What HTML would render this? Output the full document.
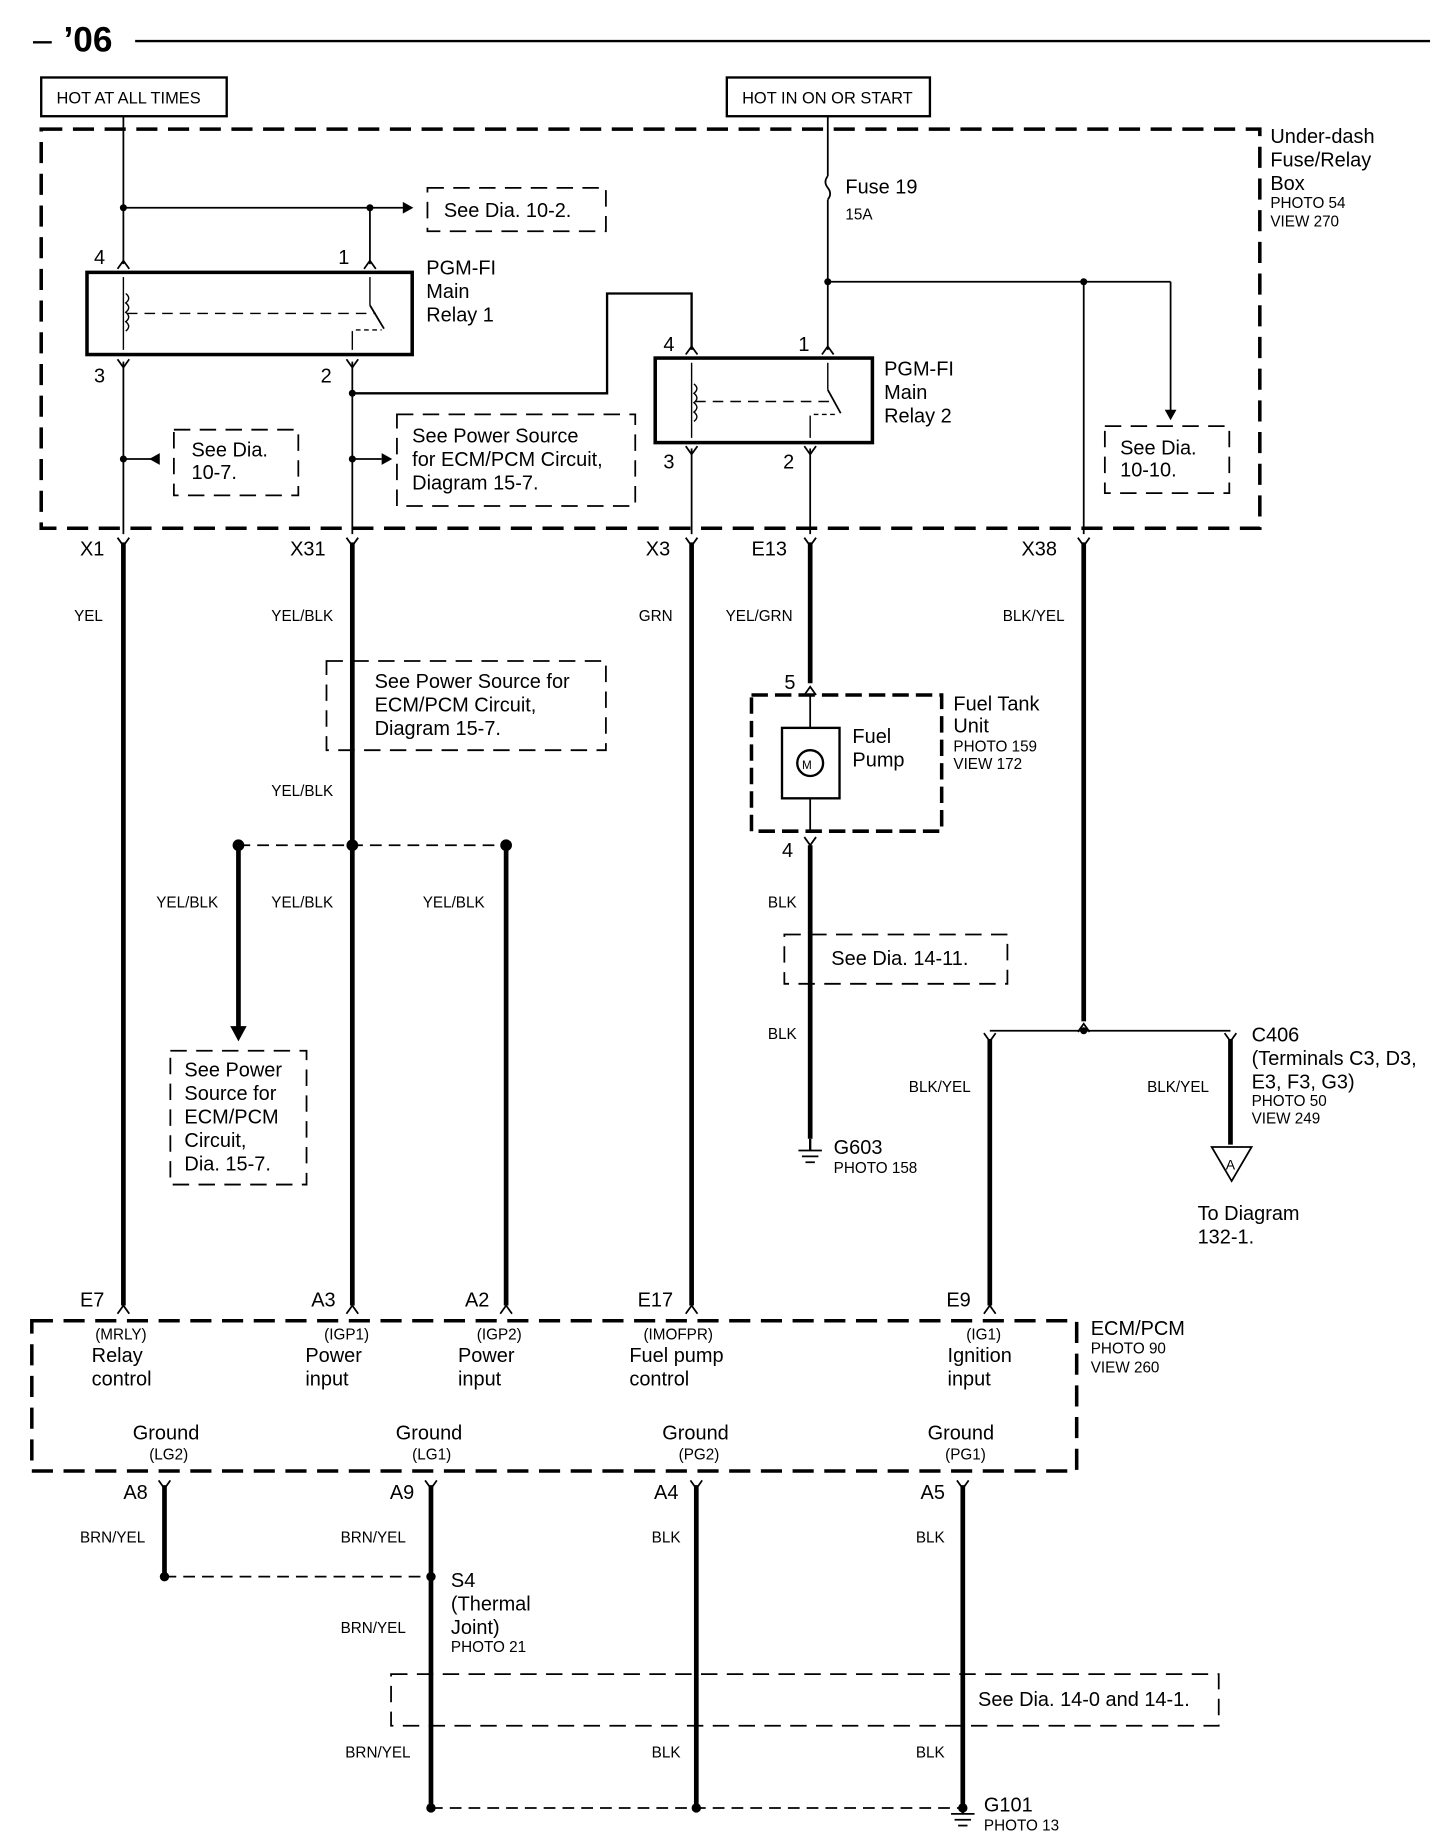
<!DOCTYPE html>
<html><head><meta charset="utf-8"><style>
html,body{margin:0;padding:0;background:#fff}
svg{display:block}
text{font-family:"Liberation Sans",Arial,sans-serif;fill:#000}
</style></head><body>
<svg width="1456" height="1842" viewBox="0 0 1240 1569" xmlns="http://www.w3.org/2000/svg">
<defs>
<g id="dn"><path d="M-5,-7 L0,0 L5,-7" fill="none" stroke="#000" stroke-width="1.5"/></g>
<g id="up"><path d="M-5,7 L0,0 L5,7" fill="none" stroke="#000" stroke-width="1.5"/></g>
</defs>
<g stroke="#000" fill="none">
<!-- header -->
<line x1="28" y1="36" x2="44" y2="36" stroke-width="2"/>
<line x1="115" y1="35" x2="1218" y2="35" stroke-width="2"/>
<rect x="35" y="66" width="158" height="33" stroke-width="2"/>
<rect x="619" y="66" width="173" height="33" stroke-width="2"/>
<rect x="35" y="110" width="1038" height="340" stroke-width="3" stroke-dasharray="18,9"/>
<!-- relay1 -->
<line x1="105" y1="99" x2="105" y2="225" stroke-width="1.5"/>
<line x1="105" y1="177" x2="345" y2="177" stroke-width="1.5"/>
<line x1="315" y1="177" x2="315" y2="225" stroke-width="1.5"/>
<rect x="74" y="232" width="277" height="70" stroke-width="3"/>
<line x1="105" y1="236" x2="105" y2="298" stroke-width="1.2"/>
<path d="M107,250 q5,4 0,8 q5,4 0,8 q5,4 0,8 q5,4 0,8" stroke-width="1.2"/>
<line x1="108" y1="267" x2="320" y2="267" stroke-width="1.2" stroke-dasharray="9,6"/>
<line x1="315" y1="236" x2="315" y2="260" stroke-width="1.2"/>
<line x1="315" y1="260" x2="327" y2="280" stroke-width="1.5"/>
<line x1="300" y1="282" x2="300" y2="298" stroke-width="1.2"/>
<line x1="303" y1="281" x2="325" y2="281" stroke-width="1.2" stroke-dasharray="4,3"/>
<line x1="105" y1="308" x2="105" y2="455" stroke-width="1.5"/>
<line x1="300" y1="308" x2="300" y2="455" stroke-width="1.5"/>
<path d="M300,335 H517 V250 H589 V298" stroke-width="2"/>
<!-- relay2 -->
<line x1="705" y1="99" x2="705" y2="150" stroke-width="1.5"/>
<path d="M705,150 q-4,5 0,10 q4,5 0,10" stroke-width="1.5"/>
<line x1="705" y1="170" x2="705" y2="298" stroke-width="1.5"/>
<line x1="705" y1="240" x2="997" y2="240" stroke-width="1.5"/>
<line x1="997" y1="240" x2="997" y2="350" stroke-width="1.5"/>
<line x1="923" y1="240" x2="923" y2="455" stroke-width="1.5"/>
<rect x="558" y="305" width="185" height="72" stroke-width="3"/>
<line x1="589" y1="309" x2="589" y2="373" stroke-width="1.2"/>
<path d="M591,327 q5,4 0,8 q5,4 0,8 q5,4 0,8 q5,4 0,8" stroke-width="1.2"/>
<line x1="592" y1="342" x2="708" y2="342" stroke-width="1.2" stroke-dasharray="9,6"/>
<line x1="705" y1="309" x2="705" y2="332" stroke-width="1.2"/>
<line x1="705" y1="332" x2="716" y2="352" stroke-width="1.5"/>
<line x1="690" y1="354" x2="690" y2="373" stroke-width="1.2"/>
<line x1="693" y1="353" x2="714" y2="353" stroke-width="1.2" stroke-dasharray="4,3"/>
<line x1="589" y1="382" x2="589" y2="455" stroke-width="1.5"/>
<line x1="690" y1="382" x2="690" y2="455" stroke-width="1.5"/>
<!-- side arrows -->
<line x1="105" y1="391" x2="135" y2="391" stroke-width="1.5"/>
<line x1="300" y1="391" x2="325" y2="391" stroke-width="1.5"/>
<!-- dashed boxes -->
<path d="M364,160 H516 V197 H364 Z" stroke-width="1.5" stroke-dasharray="14,8"/>
<path d="M148,366 H254 V422 H148 Z" stroke-width="1.5" stroke-dasharray="14,8"/>
<path d="M338,353 H541 V431 H338 Z" stroke-width="1.5" stroke-dasharray="14,8"/>
<path d="M941,363 H1047 V420 H941 Z" stroke-width="1.5" stroke-dasharray="14,8"/>
<path d="M278,563 H516 V639 H278 Z" stroke-width="1.5" stroke-dasharray="14,8"/>
<path d="M668,796 H858 V838 H668 Z" stroke-width="1.5" stroke-dasharray="14,8"/>
<path d="M145,895 H261 V1009 H145 Z" stroke-width="1.5" stroke-dasharray="14,8"/>
<path d="M333,1426 H1038 V1470 H333 Z" stroke-width="1.5" stroke-dasharray="14,8"/>
<!-- thick wires -->
<g stroke-width="4">
<line x1="105" y1="462" x2="105" y2="1112"/>
<line x1="300" y1="462" x2="300" y2="1112"/>
<line x1="589" y1="462" x2="589" y2="1112"/>
<line x1="690" y1="462" x2="690" y2="582"/>
<line x1="923" y1="462" x2="923" y2="870"/>
<line x1="203" y1="720" x2="203" y2="876"/>
<line x1="431" y1="720" x2="431" y2="1112"/>
<line x1="843" y1="885" x2="843" y2="1112"/>
<line x1="690" y1="720" x2="690" y2="970"/>
<line x1="140" y1="1265" x2="140" y2="1343"/>
<line x1="367" y1="1265" x2="367" y2="1540"/>
<line x1="593" y1="1265" x2="593" y2="1540"/>
<line x1="820" y1="1265" x2="820" y2="1540"/>
<line x1="1048" y1="885" x2="1048" y2="975"/>
</g>
<line x1="203" y1="720" x2="431" y2="720" stroke-width="1.5" stroke-dasharray="10,6"/>
<line x1="140" y1="1343" x2="367" y2="1343" stroke-width="1.5" stroke-dasharray="10,6"/>
<line x1="367" y1="1540" x2="820" y2="1540" stroke-width="1.5" stroke-dasharray="10,6"/>
<line x1="843" y1="878" x2="1048" y2="878" stroke-width="1.5"/>
<!-- fuel tank -->
<rect x="640" y="592" width="162" height="116" stroke-width="3" stroke-dasharray="14,6"/>
<rect x="666" y="620" width="49" height="60" stroke-width="2"/>
<circle cx="690" cy="650" r="11" stroke-width="2"/>
<line x1="690" y1="592" x2="690" y2="620" stroke-width="1.5"/>
<line x1="690" y1="680" x2="690" y2="708" stroke-width="1.5"/>
<path d="M1032,977 H1066 L1049,1006 Z" stroke-width="1.5"/>
<!-- ECM -->
<rect x="27" y="1125" width="890" height="128" stroke-width="3" stroke-dasharray="18,9"/>
<!-- grounds -->
<g stroke-width="1.5"><line x1="680" y1="980" x2="700" y2="980"/><line x1="683" y1="985" x2="697" y2="985"/><line x1="686" y1="990" x2="694" y2="990"/>
<line x1="810" y1="1545" x2="830" y2="1545"/><line x1="813" y1="1550" x2="827" y2="1550"/><line x1="816" y1="1555" x2="824" y2="1555"/></g>
<line x1="690" y1="970" x2="690" y2="980" stroke-width="2"/>
<line x1="820" y1="1540" x2="820" y2="1545" stroke-width="2"/>
</g>
<!-- arrows & pins -->
<g fill="#000">
<path d="M343,172 L352,177 L343,182Z"/>
<path d="M127,391 L136,386 L136,396Z"/>
<path d="M325,386 L334,391 L325,396Z"/>
<path d="M992,349 L997,358 L1002,349Z"/>
<path d="M196,874 L203,887 L210,874Z"/>
<circle cx="105" cy="177" r="3"/><circle cx="315" cy="177" r="3"/><circle cx="300" cy="335" r="3"/>
<circle cx="705" cy="240" r="3"/><circle cx="923" cy="240" r="3"/>
<circle cx="105" cy="391" r="3"/><circle cx="300" cy="391" r="3"/>
<circle cx="203" cy="720" r="5"/><circle cx="300" cy="720" r="5"/><circle cx="431" cy="720" r="5"/>
<circle cx="923" cy="878" r="3"/><circle cx="140" cy="1343" r="4"/><circle cx="367" cy="1343" r="4"/>
<circle cx="367" cy="1540" r="4"/><circle cx="593" cy="1540" r="4"/><circle cx="820" cy="1540" r="4"/>
</g>
<g>
<use href="#up" x="105" y="222"/><use href="#up" x="315" y="222"/><use href="#dn" x="105" y="313"/><use href="#dn" x="300" y="313"/>
<use href="#up" x="589" y="295"/><use href="#up" x="705" y="295"/><use href="#dn" x="589" y="387"/><use href="#dn" x="690" y="387"/>
<use href="#dn" x="105" y="465"/><use href="#dn" x="300" y="465"/><use href="#dn" x="589" y="465"/><use href="#dn" x="690" y="465"/><use href="#dn" x="923" y="465"/>
<use href="#up" x="690" y="585"/><use href="#dn" x="690" y="720"/>
<use href="#up" x="105" y="1112"/><use href="#up" x="300" y="1112"/><use href="#up" x="431" y="1112"/><use href="#up" x="589" y="1112"/><use href="#up" x="843" y="1112"/>
<use href="#dn" x="140" y="1268"/><use href="#dn" x="367" y="1268"/><use href="#dn" x="593" y="1268"/><use href="#dn" x="820" y="1268"/>
<use href="#dn" x="843" y="887"/><use href="#dn" x="1048" y="887"/><use href="#up" x="923" y="872"/>
</g>
<!-- text -->
<text x="54" y="44" font-size="30" font-weight="bold">’06</text>
<g font-size="14">
<text x="48" y="88">HOT AT ALL TIMES</text>
<text x="632" y="88">HOT IN ON OR START</text>
</g>
<g font-size="17">
<text x="1082" y="122">Under-dash</text><text x="1082" y="142">Fuse/Relay</text><text x="1082" y="162">Box</text>
<text x="720" y="165">Fuse 19</text>
<text x="378" y="185">See Dia. 10-2.</text>
<text x="363" y="234">PGM-FI</text><text x="363" y="254">Main</text><text x="363" y="274">Relay 1</text>
<text x="753" y="320">PGM-FI</text><text x="753" y="340">Main</text><text x="753" y="360">Relay 2</text>
<text x="80" y="225">4</text><text x="288" y="225">1</text><text x="80" y="326">3</text><text x="273" y="326">2</text>
<text x="565" y="299">4</text><text x="680" y="299">1</text><text x="565" y="399">3</text><text x="667" y="399">2</text>
<text x="163" y="389">See Dia.</text><text x="163" y="408">10-7.</text>
<text x="351" y="377">See Power Source</text><text x="351" y="397">for ECM/PCM Circuit,</text><text x="351" y="417">Diagram 15-7.</text>
<text x="954" y="387">See Dia.</text><text x="954" y="406">10-10.</text>
<text x="68" y="473">X1</text><text x="247" y="473">X31</text><text x="550" y="473">X3</text><text x="640" y="473">E13</text><text x="870" y="473">X38</text>
<text x="319" y="586">See Power Source for</text><text x="319" y="606">ECM/PCM Circuit,</text><text x="319" y="626">Diagram 15-7.</text>
<text x="668" y="587">5</text><text x="666" y="730">4</text>
<text x="812" y="605">Fuel Tank</text><text x="812" y="624">Unit</text>
<text x="726" y="633">Fuel</text><text x="726" y="653">Pump</text>
<text x="708" y="822">See Dia. 14-11.</text>
<text x="157" y="917">See Power</text><text x="157" y="937">Source for</text><text x="157" y="957">ECM/PCM</text><text x="157" y="977">Circuit,</text><text x="157" y="997">Dia. 15-7.</text>
<text x="710" y="983">G603</text>
<text x="1066" y="887">C406</text><text x="1066" y="907">(Terminals C3, D3,</text><text x="1066" y="927">E3, F3, G3)</text>
<text x="1020" y="1039">To Diagram</text><text x="1020" y="1059">132-1.</text>
<text x="68" y="1113">E7</text><text x="265" y="1113">A3</text><text x="396" y="1113">A2</text><text x="543" y="1113">E17</text><text x="806" y="1113">E9</text>
<text x="929" y="1137">ECM/PCM</text>
<text x="78" y="1160">Relay</text><text x="78" y="1180">control</text>
<text x="260" y="1160">Power</text><text x="260" y="1180">input</text>
<text x="390" y="1160">Power</text><text x="390" y="1180">input</text>
<text x="536" y="1160">Fuel pump</text><text x="536" y="1180">control</text>
<text x="807" y="1160">Ignition</text><text x="807" y="1180">input</text>
<text x="113" y="1226">Ground</text><text x="337" y="1226">Ground</text><text x="564" y="1226">Ground</text><text x="790" y="1226">Ground</text>
<text x="105" y="1277">A8</text><text x="332" y="1277">A9</text><text x="557" y="1277">A4</text><text x="784" y="1277">A5</text>
<text x="384" y="1352">S4</text><text x="384" y="1372">(Thermal</text><text x="384" y="1392">Joint)</text>
<text x="833" y="1453">See Dia. 14-0 and 14-1.</text>
<text x="838" y="1543">G101</text>
</g>
<g font-size="13">
<text x="720" y="187">15A</text>
<text x="1082" y="177">PHOTO 54</text><text x="1082" y="193">VIEW 270</text>
<text x="812" y="640">PHOTO 159</text><text x="812" y="655">VIEW 172</text>
<text x="710" y="999">PHOTO 158</text>
<text x="1066" y="942">PHOTO 50</text><text x="1066" y="957">VIEW 249</text>
<text x="929" y="1153">PHOTO 90</text><text x="929" y="1169">VIEW 260</text>
<text x="384" y="1407">PHOTO 21</text>
<text x="838" y="1559">PHOTO 13</text>
<text x="63" y="529">YEL</text><text x="231" y="529">YEL/BLK</text><text x="544" y="529">GRN</text><text x="618" y="529">YEL/GRN</text><text x="854" y="529">BLK/YEL</text>
<text x="231" y="678">YEL/BLK</text>
<text x="133" y="773">YEL/BLK</text><text x="231" y="773">YEL/BLK</text><text x="360" y="773">YEL/BLK</text>
<text x="654" y="773">BLK</text><text x="654" y="885">BLK</text>
<text x="774" y="930">BLK/YEL</text><text x="977" y="930">BLK/YEL</text>
<text x="81" y="1141">(MRLY)</text><text x="276" y="1141">(IGP1)</text><text x="406" y="1141">(IGP2)</text><text x="548" y="1141">(IMOFPR)</text><text x="823" y="1141">(IG1)</text>
<text x="127" y="1243">(LG2)</text><text x="351" y="1243">(LG1)</text><text x="578" y="1243">(PG2)</text><text x="805" y="1243">(PG1)</text>
<text x="68" y="1314">BRN/YEL</text><text x="290" y="1314">BRN/YEL</text><text x="555" y="1314">BLK</text><text x="780" y="1314">BLK</text>
<text x="290" y="1391">BRN/YEL</text>
<text x="294" y="1497">BRN/YEL</text><text x="555" y="1497">BLK</text><text x="780" y="1497">BLK</text>
<text x="1044" y="996" font-size="12">A</text>
<text x="683" y="655" font-size="10">M</text>
</g>
</svg>
</body></html>
